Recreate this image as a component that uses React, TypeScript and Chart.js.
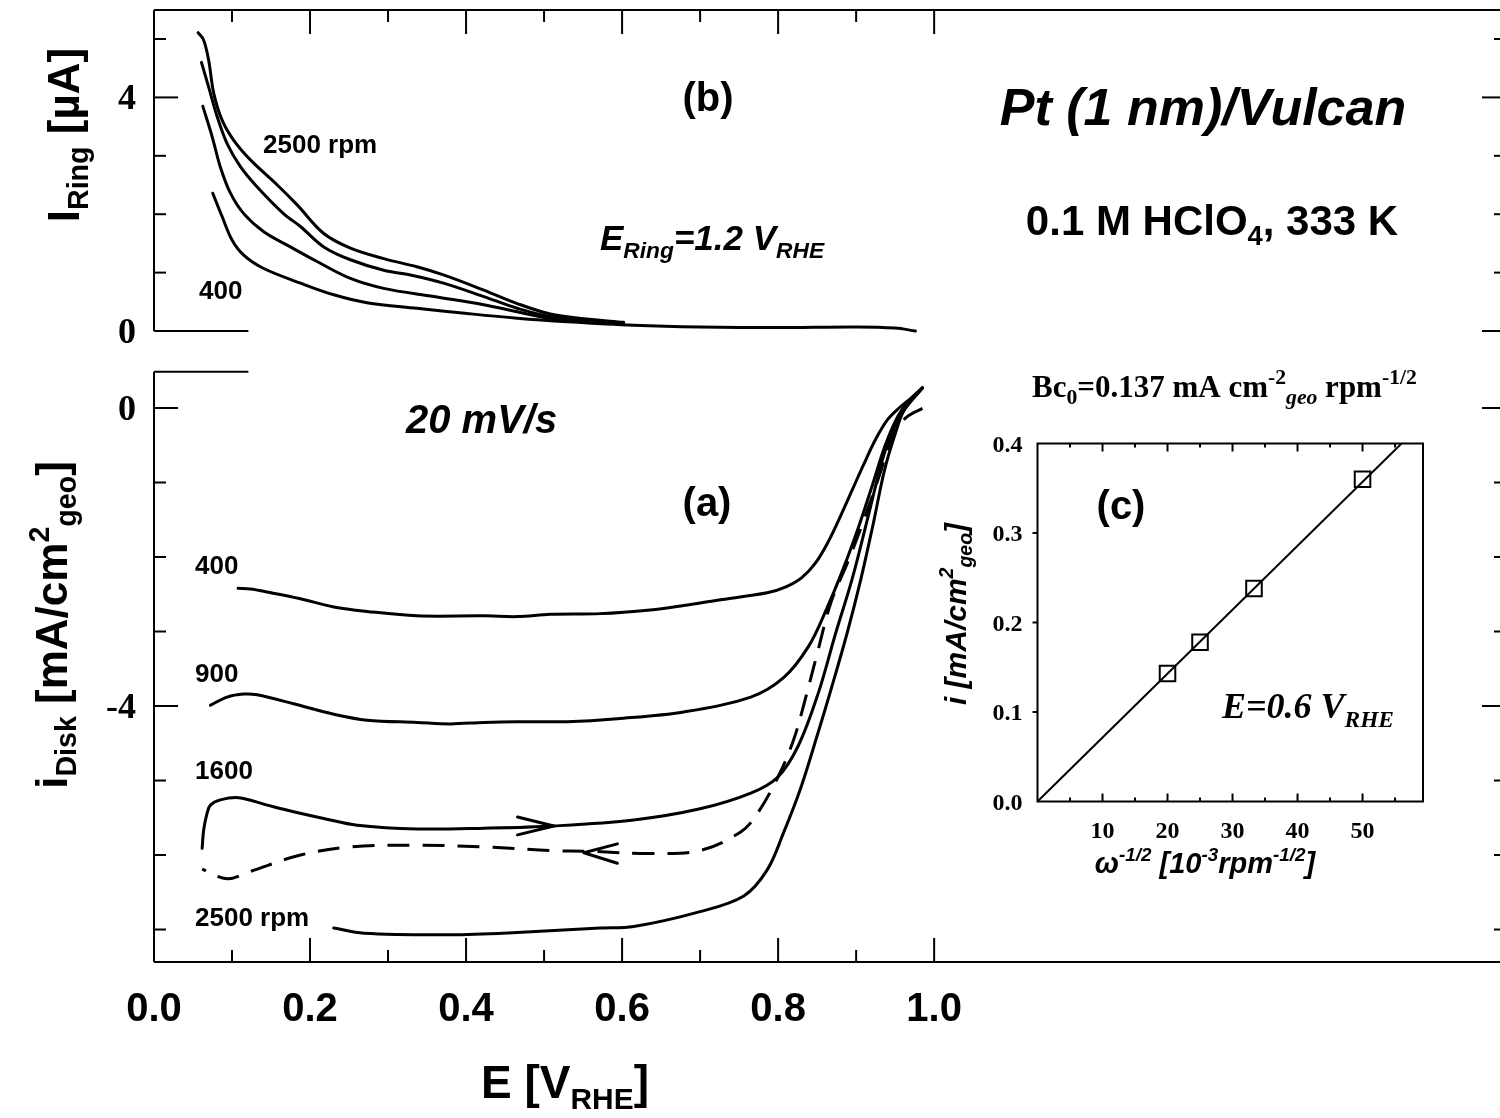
import React, { useEffect, useRef } from "react";
import { Chart, registerables } from "chart.js";
Chart.register(...registerables);

const SANS = '"Liberation Sans", Arial, sans-serif';
const SERIF = '"Liberation Serif", "Times New Roman", serif';

// ---- axis ticks / labels ----
const E_TICKS = [0.1, 0.2, 0.3, 0.4, 0.5, 0.6, 0.7, 0.8, 0.9, 1.0];
const E_LABELS = [0.0, 0.2, 0.4, 0.6, 0.8, 1.0];
const RING_TICKS = [0, 1, 2, 3, 4, 5];
const RING_LABELS = [0, 4];
const DISK_TICKS = [0, -1, -2, -3, -4, -5, -6, -7];
const DISK_LABELS = [0, -4];
const OMEGA_TICKS = [5, 10, 15, 20, 25, 30, 35, 40, 45, 50, 55];
const OMEGA_LABELS = [10, 20, 30, 40, 50];
const IC_TICKS = [0.1, 0.2, 0.3];
const IC_LABELS = [0.0, 0.1, 0.2, 0.3, 0.4];

// ---- ring currents (E [V], I [uA]) ----
const ring2500: [number, number][] = [
  [0.0565, 5.11], [0.0637, 4.98], [0.070, 4.64], [0.0766, 4.07], [0.0873, 3.61], [0.102, 3.27],
  [0.1236, 2.93], [0.158, 2.5], [0.1835, 2.16], [0.2176, 1.67], [0.2518, 1.42], [0.2945, 1.24],
  [0.337, 1.1], [0.371, 0.96], [0.4227, 0.7], [0.4655, 0.47], [0.508, 0.29], [0.551, 0.21], [0.602, 0.15],
];
const ring1600: [number, number][] = [
  [0.0608, 4.6], [0.070, 4.18], [0.081, 3.67], [0.0937, 3.21], [0.111, 2.81], [0.132, 2.47],
  [0.166, 2.01], [0.1877, 1.79], [0.2176, 1.44], [0.2518, 1.22], [0.2945, 1.04], [0.3287, 0.96],
  [0.371, 0.82], [0.4227, 0.59], [0.4655, 0.39], [0.508, 0.25], [0.602, 0.13],
];
const ring900: [number, number][] = [
  [0.0625, 3.85], [0.0745, 3.33], [0.085, 2.81], [0.098, 2.36], [0.115, 2.01], [0.1407, 1.7],
  [0.1749, 1.44], [0.209, 1.19], [0.2518, 0.9], [0.2945, 0.73], [0.3586, 0.59], [0.4227, 0.45],
  [0.4655, 0.33], [0.508, 0.22], [0.602, 0.12],
];
const ring400: [number, number][] = [
  [0.0753, 2.36], [0.0873, 1.96], [0.1, 1.56], [0.115, 1.3], [0.1407, 1.07], [0.1877, 0.82],
  [0.2304, 0.62], [0.273, 0.485], [0.337, 0.39], [0.4014, 0.3], [0.4655, 0.22], [0.53, 0.16],
  [0.615, 0.1], [0.7, 0.07], [0.8, 0.06], [0.9, 0.07], [0.95, 0.05], [0.976, 0.0],
];

// ---- disk currents (E [V], i [mA/cm2]) ----
const disk400: [number, number][] = [
  [0.1078, -2.42], [0.1236, -2.43], [0.145, -2.47], [0.1877, -2.56], [0.2304, -2.67], [0.273, -2.73],
  [0.337, -2.79], [0.4227, -2.79], [0.4655, -2.8], [0.508, -2.77], [0.572, -2.76], [0.636, -2.71],
  [0.679, -2.65], [0.722, -2.58], [0.786, -2.48], [0.81, -2.4], [0.83, -2.28], [0.848, -2.08],
  [0.865, -1.78], [0.88, -1.45], [0.895, -1.1], [0.91, -0.75], [0.925, -0.42], [0.94, -0.16],
  [0.955, 0.0], [0.97, 0.13], [0.985, 0.27],
];
const disk900: [number, number][] = [
  [0.0723, -3.99], [0.0937, -3.88], [0.115, -3.84], [0.132, -3.85], [0.179, -3.97], [0.2304, -4.11],
  [0.273, -4.19], [0.337, -4.22], [0.38, -4.24], [0.4227, -4.22], [0.4655, -4.21], [0.53, -4.21],
  [0.594, -4.17], [0.679, -4.08], [0.765, -3.88], [0.807, -3.62], [0.839, -3.2], [0.862, -2.7],
  [0.883, -2.17], [0.903, -1.6], [0.921, -1.03], [0.938, -0.48], [0.957, -0.05], [0.985, 0.27],
];
const disk1600fwd: [number, number][] = [
  [0.0617, -5.91], [0.0637, -5.66], [0.068, -5.44], [0.0723, -5.33], [0.085, -5.26], [0.1086, -5.23],
  [0.145, -5.33], [0.179, -5.42], [0.2176, -5.51], [0.2604, -5.6], [0.337, -5.65], [0.4227, -5.64],
  [0.5125, -5.61], [0.615, -5.53], [0.7, -5.38], [0.765, -5.17], [0.799, -4.96], [0.826, -4.53],
  [0.852, -3.81], [0.873, -3.05], [0.895, -2.29], [0.916, -1.43], [0.937, -0.58], [0.957, -0.1], [0.985, 0.27],
];
const disk1600back: [number, number][] = [
  [0.985, -0.005], [0.965, -0.12], [0.948, -0.34], [0.93, -0.9], [0.91, -1.5], [0.89, -2.05],
  [0.868, -2.6], [0.85, -3.3], [0.835, -3.9], [0.82, -4.45], [0.8, -4.95], [0.773, -5.45],
  [0.752, -5.69], [0.7, -5.94], [0.636, -5.98], [0.559, -5.95], [0.508, -5.94], [0.4227, -5.89],
  [0.337, -5.87], [0.2518, -5.89], [0.1877, -6.0], [0.1236, -6.22], [0.0937, -6.32], [0.0617, -6.19],
];
const disk2500: [number, number][] = [
  [0.2304, -6.98], [0.269, -7.05], [0.38, -7.07], [0.4655, -7.04], [0.572, -6.98], [0.615, -6.96],
  [0.7, -6.76], [0.756, -6.55], [0.786, -6.2], [0.807, -5.7], [0.829, -5.1], [0.85, -4.4],
  [0.87, -3.7], [0.889, -3.0], [0.906, -2.3], [0.922, -1.55], [0.936, -0.85], [0.95, -0.35],
  [0.962, -0.02], [0.985, 0.27],
];
const arrowFwd: [number, number][] = [[0.466, -5.49], [0.5125, -5.61], [0.466, -5.73]];
const arrowBack: [number, number][] = [[0.594, -5.85], [0.551, -5.97], [0.594, -6.11]];

// ---- inset (c) ----
const omegaInvSqrt = [20, 25, 33.3, 50];
const iAt06 = [0.143, 0.178, 0.238, 0.36];
const fitOmega = [0, 56];
const fitI = [0, 0.4];

type Seg = { t: string; s?: "sub" | "sup"; it?: boolean };
type RichOpts = {
  size: number; family?: string; bold?: boolean; italic?: boolean;
  align?: "left" | "center" | "right"; rotate?: boolean; sc?: number; subDy?: number; supDy?: number;
};

function drawRich(ctx: CanvasRenderingContext2D, segs: Seg[], x: number, y: number, o: RichOpts) {
  const fam = o.family ?? SANS;
  const bold = o.bold ?? true;
  const sc = o.sc ?? 0.65;
  const parts = segs.map((sg) => {
    const sz = sg.s ? o.size * sc : o.size;
    const it = sg.it ?? o.italic ?? false;
    const font = `${it ? "italic " : ""}${bold ? "bold " : ""}${sz}px ${fam}`;
    ctx.font = font;
    const w = ctx.measureText(sg.t).width;
    const dy = sg.s === "sub" ? o.size * (o.subDy ?? 0.24) : sg.s === "sup" ? -o.size * (o.supDy ?? 0.42) : 0;
    return { t: sg.t, font, w, dy };
  });
  const total = parts.reduce((a, p) => a + p.w, 0);
  ctx.save();
  ctx.translate(x, y);
  if (o.rotate) ctx.rotate(-Math.PI / 2);
  let cx = o.align === "center" ? -total / 2 : o.align === "right" ? -total : 0;
  ctx.textAlign = "left";
  ctx.textBaseline = "alphabetic";
  ctx.fillStyle = "#000";
  for (const p of parts) {
    ctx.font = p.font;
    ctx.fillText(p.t, cx, p.dy);
    cx += p.w;
  }
  ctx.restore();
}

function line(ctx: CanvasRenderingContext2D, x1: number, y1: number, x2: number, y2: number) {
  ctx.beginPath();
  ctx.moveTo(x1, y1);
  ctx.lineTo(x2, y2);
  ctx.stroke();
}

const STUB_E = 0.121;
const DISK_TOP_V = 0.487;

const mainDecor = {
  id: "mainDecor",
  afterDraw(chart: any) {
    const ctx: CanvasRenderingContext2D = chart.ctx;
    const { left, right, top, bottom } = chart.chartArea;
    const xs = chart.scales.x, yr = chart.scales.yRing, yd = chart.scales.yDisk;
    const ring0 = yr.getPixelForValue(0);
    const diskTop = yd.getPixelForValue(DISK_TOP_V);
    const stubX = xs.getPixelForValue(STUB_E);
    ctx.save();
    ctx.strokeStyle = "#000";
    ctx.lineWidth = 2;
    ctx.lineCap = "butt";
    // frame
    line(ctx, left, top, right, top);
    line(ctx, left, bottom, right, bottom);
    line(ctx, left, top, left, ring0);
    line(ctx, left, diskTop, left, bottom);
    line(ctx, left, ring0, stubX, ring0);
    line(ctx, left, diskTop, stubX, diskTop);
    line(ctx, right, top, right, bottom);
    // x ticks (top and bottom, inward)
    for (const t of xs.ticks) {
      const px = xs.getPixelForValue(t.value);
      const major = Math.abs(t.value * 5 - Math.round(t.value * 5)) < 1e-6;
      const len = major ? 24 : 12;
      line(ctx, px, top, px, top + len);
      line(ctx, px, bottom, px, bottom - len);
    }
    for (const t of yr.ticks) {
      const py = yr.getPixelForValue(t.value);
      const len = t.value % 4 === 0 ? 24 : 12;
      if (t.value !== 0) line(ctx, left, py, left + len, py);
      line(ctx, right, py, right - len, py);
    }
    for (const t of yd.ticks) {
      const py = yd.getPixelForValue(t.value);
      const len = t.value % 4 === 0 ? 24 : 12;
      line(ctx, left, py, left + len, py);
      line(ctx, right, py, right - len, py);
    }
    ctx.restore();

    // tick labels
    ctx.save();
    ctx.fillStyle = "#000";
    ctx.font = `bold 40px ${SANS}`;
    ctx.textAlign = "center";
    ctx.textBaseline = "alphabetic";
    for (const v of E_LABELS) ctx.fillText(v.toFixed(1), xs.getPixelForValue(v), bottom + 59);
    ctx.font = `bold 36px ${SERIF}`;
    ctx.textAlign = "right";
    for (const v of RING_LABELS) ctx.fillText(String(v), left - 18, yr.getPixelForValue(v) + 12);
    for (const v of DISK_LABELS) ctx.fillText(String(v), left - 18, yd.getPixelForValue(v) + 12);
    ctx.restore();

    // axis titles
    drawRich(ctx, [{ t: "E [V" }, { t: "RHE", s: "sub" }, { t: "]" }], 565, 1098, { size: 46, align: "center" });
    drawRich(ctx, [{ t: "I" }, { t: "Ring", s: "sub" }, { t: " [\u00b5A]" }], 79, 135, { size: 44, align: "center", rotate: true, subDy: 0.2 });
    drawRich(ctx, [{ t: "i" }, { t: "Disk", s: "sub" }, { t: " [mA/cm" }, { t: "2", s: "sup" }, { t: "geo", s: "sub" }, { t: "]" }], 67, 625, { size: 44, align: "center", rotate: true, subDy: 0.2 });

    // annotations
    ctx.save();
    ctx.fillStyle = "#000";
    ctx.textBaseline = "middle";
    ctx.textAlign = "center";
    ctx.font = `bold 40px ${SANS}`;
    ctx.fillText("(b)", 708, 100);
    ctx.fillText("(a)", 707, 505);
    ctx.textAlign = "left";
    ctx.font = `bold 26px ${SANS}`;
    ctx.fillText("2500 rpm", 263, 146);
    ctx.fillText("400", 199, 292);
    ctx.fillText("400", 195, 567);
    ctx.fillText("900", 195, 675);
    ctx.fillText("1600", 195, 772);
    ctx.fillText("2500 rpm", 195, 919);
    ctx.restore();
    drawRich(ctx, [{ t: "E" }, { t: "Ring", s: "sub" }, { t: "=1.2 V" }, { t: "RHE", s: "sub" }], 600, 250, { size: 35, italic: true });
    drawRich(ctx, [{ t: "20 mV/s" }], 406, 433, { size: 40, italic: true });
    drawRich(ctx, [{ t: "Pt (1 nm)/Vulcan" }], 1203, 125, { size: 52, italic: true, align: "center" });
    drawRich(ctx, [{ t: "0.1 M HClO" }, { t: "4", s: "sub" }, { t: ", 333 K" }], 1212, 235, { size: 42, align: "center" });
    drawRich(
      ctx,
      [{ t: "Bc" }, { t: "0", s: "sub" }, { t: "=0.137 mA cm" }, { t: "-2", s: "sup" }, { t: "geo", s: "sub", it: true }, { t: " rpm" }, { t: "-1/2", s: "sup" }],
      1032, 397, { size: 31, family: SERIF, sc: 0.7 }
    );
  },
};

const insetDecor = {
  id: "insetDecor",
  afterDraw(chart: any) {
    const ctx: CanvasRenderingContext2D = chart.ctx;
    const { left, right, top, bottom } = chart.chartArea;
    const xs = chart.scales.x, ys = chart.scales.y;
    ctx.save();
    ctx.strokeStyle = "#000";
    ctx.lineWidth = 2;
    ctx.strokeRect(left, top, right - left, bottom - top);
    for (const t of xs.ticks) {
      const px = xs.getPixelForValue(t.value);
      const len = t.value % 10 === 0 ? 8 : 4;
      line(ctx, px, top, px, top + len);
      line(ctx, px, bottom, px, bottom - len);
    }
    for (const t of ys.ticks) {
      const py = ys.getPixelForValue(t.value);
      line(ctx, left, py, left - 5, py);
    }
    ctx.fillStyle = "#000";
    ctx.font = `bold 24px ${SERIF}`;
    ctx.textAlign = "right";
    ctx.textBaseline = "alphabetic";
    for (const v of IC_LABELS) ctx.fillText(v.toFixed(1), left - 15, ys.getPixelForValue(v) + 8);
    ctx.textAlign = "center";
    for (const v of OMEGA_LABELS) ctx.fillText(String(v), xs.getPixelForValue(v), bottom + 36);
    ctx.font = `bold 40px ${SANS}`;
    ctx.textBaseline = "middle";
    ctx.fillText("(c)", 1121, 508);
    ctx.restore();
    drawRich(ctx, [{ t: "E=0.6 V" }, { t: "RHE", s: "sub" }], 1222, 718, { size: 36, family: SERIF, italic: true });
    drawRich(ctx, [{ t: "i [mA/cm" }, { t: "2", s: "sup" }, { t: "geo", s: "sub" }, { t: "]" }], 966, 614, { size: 30, italic: true, align: "center", rotate: true, subDy: 0.2 });
    drawRich(
      ctx,
      [{ t: "\u03c9" }, { t: "-1/2", s: "sup" }, { t: " [10" }, { t: "-3", s: "sup" }, { t: "rpm" }, { t: "-1/2", s: "sup" }, { t: "]" }],
      1205, 873, { size: 29, italic: true, align: "center" }
    );
  },
};

const toPts = (arr: [number, number][]) => arr.map(([x, y]) => ({ x, y }));

function curve(label: string, arr: [number, number][], yAxisID: string, dashed = false) {
  return {
    label,
    data: toPts(arr),
    yAxisID,
    xAxisID: "x",
    borderColor: "#000",
    borderWidth: 3,
    borderDash: dashed ? [22, 13] : [],
    borderCapStyle: dashed ? "butt" : "round",
    borderJoinStyle: "round",
    pointRadius: 0,
    tension: 0.35,
    fill: false,
  };
}

function arrow(label: string, arr: [number, number][]) {
  return { ...curve(label, arr, "yDisk"), tension: 0 };
}

export default function App() {
  const mainRef = useRef<HTMLCanvasElement>(null);
  const insetRef = useRef<HTMLCanvasElement>(null);

  useEffect(() => {
    const main = new Chart(mainRef.current as HTMLCanvasElement, {
      type: "line",
      data: {
        datasets: [
          curve("ring 400", ring400, "yRing"),
          curve("ring 900", ring900, "yRing"),
          curve("ring 1600", ring1600, "yRing"),
          curve("ring 2500", ring2500, "yRing"),
          curve("disk 400", disk400, "yDisk"),
          curve("disk 900", disk900, "yDisk"),
          curve("disk 1600 positive scan", disk1600fwd, "yDisk"),
          curve("disk 1600 negative scan", disk1600back, "yDisk", true),
          curve("disk 2500", disk2500, "yDisk"),
          arrow("arrow positive", arrowFwd),
          arrow("arrow negative", arrowBack),
        ] as any,
      },
      options: {
        responsive: false,
        animation: false,
        events: [],
        layout: { padding: { left: 154, top: 10, right: 4, bottom: 156 } },
        plugins: { legend: { display: false }, tooltip: { enabled: false } },
        scales: {
          x: {
            type: "linear", display: false, min: 0, max: 1.733,
            afterBuildTicks: (axis: any) => { axis.ticks = E_TICKS.map((value) => ({ value })); },
          },
          yRing: {
            type: "linear", display: false, min: -10.805, max: 5.497,
            afterBuildTicks: (axis: any) => { axis.ticks = RING_TICKS.map((value) => ({ value })); },
          },
          yDisk: {
            type: "linear", display: false, min: -7.436, max: 5.342,
            afterBuildTicks: (axis: any) => { axis.ticks = DISK_TICKS.map((value) => ({ value })); },
          },
        } as any,
      },
      plugins: [mainDecor],
    });

    const inset = new Chart(insetRef.current as HTMLCanvasElement, {
      type: "line",
      data: {
        datasets: [
          {
            label: "fit",
            data: fitOmega.map((x, i) => ({ x, y: fitI[i] })),
            borderColor: "#000",
            borderWidth: 2,
            pointRadius: 0,
            tension: 0,
          },
          {
            label: "E = 0.6 V",
            data: omegaInvSqrt.map((x, i) => ({ x, y: iAt06[i] })),
            showLine: false,
            pointStyle: "rect",
            pointRadius: 11,
            pointBackgroundColor: "#fff",
            pointBorderColor: "#000",
            pointBorderWidth: 2,
          },
        ] as any,
      },
      options: {
        responsive: false,
        animation: false,
        events: [],
        layout: { padding: { left: 1037.5, top: 443.5, right: 77, bottom: 316.5 } },
        plugins: { legend: { display: false }, tooltip: { enabled: false } },
        scales: {
          x: {
            type: "linear", display: false, min: 0, max: 59.3,
            afterBuildTicks: (axis: any) => { axis.ticks = OMEGA_TICKS.map((value) => ({ value })); },
          },
          y: {
            type: "linear", display: false, min: 0, max: 0.4,
            afterBuildTicks: (axis: any) => { axis.ticks = IC_TICKS.map((value) => ({ value })); },
          },
        } as any,
      },
      plugins: [insetDecor],
    });

    return () => {
      main.destroy();
      inset.destroy();
    };
  }, []);

  return (
    <div style={{ position: "absolute", left: 0, top: 0, width: 1500, height: 1118, overflow: "hidden", background: "#fff" }}>
      <canvas ref={mainRef} width={1510} height={1118} style={{ position: "absolute", left: 0, top: 0, width: 1510, height: 1118 }} />
      <canvas ref={insetRef} width={1500} height={1118} style={{ position: "absolute", left: 0, top: 0, width: 1500, height: 1118 }} />
    </div>
  );
}
